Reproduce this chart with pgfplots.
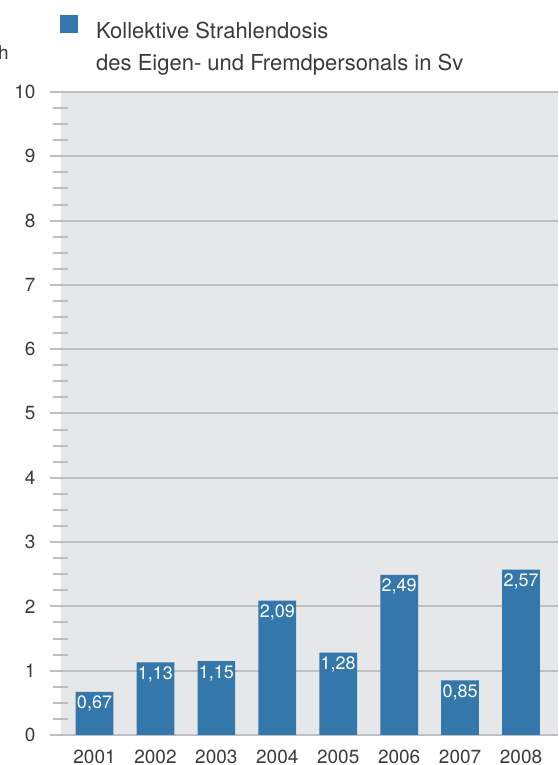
\documentclass[border=0pt]{standalone}
\usepackage{fontspec}
\setmainfont{TeX Gyre Heros}
\usepackage{pgfplots}
\pgfplotsset{compat=1.18}
\usetikzlibrary{calc}
\definecolor{barblue}{HTML}{3477AA}
\definecolor{bggray}{HTML}{E6E7E9}
\definecolor{gridgray}{HTML}{BEBFC1}
\definecolor{txt}{HTML}{3A3A3A}
\begin{document}
\begin{tikzpicture}
\begin{axis}[name=ax, scale only axis, width=497pt, height=643pt,
  xmin=-0.55, xmax=7.607, ymin=0, ymax=10,
  axis background/.style={fill=bggray},
  axis line style={draw=none},
  xtick={0,1,2,3,4,5,6,7},
  xticklabels={2001,2002,2003,2004,2005,2006,2007,2008},
  ytick={0,1,2,3,4,5,6,7,8,9,10}, minor y tick num=3,
  ytick pos=left,
  tick align=center,
  major tick length=22pt, minor tick length=15pt,
  major y tick style={draw=gridgray, line width=2pt},
  minor y tick style={draw=gridgray, line width=2pt},
  major x tick style={draw=none},
  ymajorgrids, major grid style={draw=gridgray, line width=2pt},
  /pgf/number format/assume math mode=true,
  tick label style={font=\fontsize{19}{19}\selectfont, text=txt},
  yticklabel style={anchor=east, xshift=-11pt},
  legend style={draw=none, fill=none, at={(0,1)}, anchor=north west,
    xshift=-1pt, yshift=77pt, inner sep=0pt, column sep=18pt, row sep=10pt,
    font=\fontsize{22}{26}\selectfont, text=txt,
    nodes={inner sep=0pt, text height=16pt, text depth=6pt}},
  legend cell align=left,
]
\addplot[ybar, bar width=37.7pt, fill=barblue, draw=none,
  legend image code/.code={\fill[barblue] (0pt,0pt) rectangle (18pt,18pt);},
  nodes near coords={\pgfmathprintnumber[use comma,fixed,fixed zerofill,precision=2,assume math mode=true]{\pgfplotspointmeta}},
  nodes near coords style={anchor=north, inner sep=0pt, yshift=-4pt, text=white, font=\fontsize{18}{18}\selectfont}]
  coordinates {(0,0.67) (1,1.13) (2,1.15) (3,2.09) (4,1.28) (5,2.49) (6,0.85) (7,2.57)};
\addlegendentry{Kollektive Strahlendosis}
\addlegendimage{empty legend}
\addlegendentry{des Eigen- und Fremdpersonals in Sv}
\end{axis}
\node[anchor=base east, inner sep=0pt, font=\fontsize{19}{19}\selectfont, text=txt] at ($(ax.north west)+(-52pt,32pt)$) {h};
\pgfresetboundingbox
\path[use as bounding box] ($(ax.south west)+(-61pt,-30pt)$) rectangle ($(ax.south west)+(497pt,735pt)$);
\end{tikzpicture}
\end{document}
